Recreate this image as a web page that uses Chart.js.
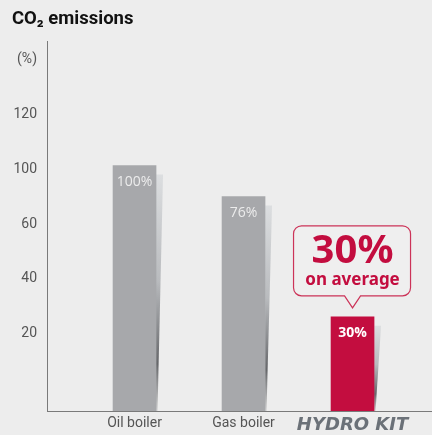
<!DOCTYPE html>
<html>
<head>
<meta charset="utf-8">
<script src="https://cdn.jsdelivr.net/npm/chart.js@4.4.1/dist/chart.umd.min.js"></script>
<style>
  html, body { margin: 0; padding: 0; background: #ededed; }
  #wrap { width: 432px; height: 435px; }
</style>
</head>
<body>
<div id="wrap"><canvas id="co2Chart"></canvas></div>
<script>
// Data
const categories = ['Oil boiler', 'Gas boiler', 'HYDRO KIT'];
const barHeights = [81.3, 70.0, 26.2];   // bar tops read against the axis grid
const barLabels = ['100%', '76%', '30%'];
const yTickValues = [20, 40, 60, 80, 100, 120];
const yTickLabels = ['20', '40', '60', '100', '120', '(%)'];
const calloutLines = ['30%', 'on average'];

const Y_MIN = -8.1;
const Y_MAX = 126.6;

const GREY = '#a7a8ab';
const RED = '#c30d3f';

// Shadows, value labels and the callout bubble
const barDecor = {
    id: 'barDecor',
    beforeDatasetsDraw(chart) {
        const c = chart.ctx;
        chart.getDatasetMeta(0).data.forEach(bar => {
            const right = bar.x + bar.width / 2;
            const top = bar.y + 9;
            const g = c.createLinearGradient(0, top, 0, bar.base);
            g.addColorStop(0, '#dcdee0');
            g.addColorStop(0.45, '#b9bbbe');
            g.addColorStop(0.8, '#66676a');
            g.addColorStop(1, '#d0d0d0');
            c.save();
            c.fillStyle = g;
            c.beginPath();
            c.moveTo(right, top);
            c.lineTo(right + 7, top);
            c.lineTo(right + 1.5, bar.base);
            c.lineTo(right, bar.base);
            c.closePath();
            c.fill();
            c.restore();
        });
    },
    afterDatasetsDraw(chart) {
        const c = chart.ctx;
        const bars = chart.getDatasetMeta(0).data;
        c.save();
        c.textAlign = 'center';
        c.textBaseline = 'alphabetic';
        bars.forEach((bar, i) => {
            const last = i === bars.length - 1;
            c.fillStyle = last ? '#ffffff' : '#ececec';
            c.font = (last ? 'bold ' : '') + '14px "Open Sans"';
            c.fillText(barLabels[i], bar.x, bar.y + 20);
        });

        // callout over the last bar
        const bar = bars[bars.length - 1];
        const cx = bar.x;
        const tipY = bar.y - 9;
        const bottom = bar.y - 21;
        const top = bar.y - 91;
        const left = cx - 59;
        const right = cx + 58;
        const r = 8;
        c.beginPath();
        c.moveTo(left + r, top);
        c.lineTo(right - r, top);
        c.arcTo(right, top, right, top + r, r);
        c.lineTo(right, bottom - r);
        c.arcTo(right, bottom, right - r, bottom, r);
        c.lineTo(cx + 8, bottom);
        c.lineTo(cx, tipY);
        c.lineTo(cx - 8, bottom);
        c.lineTo(left + r, bottom);
        c.arcTo(left, bottom, left, bottom - r, r);
        c.lineTo(left, top + r);
        c.arcTo(left, top, left + r, top, r);
        c.closePath();
        c.fillStyle = '#efefef';
        c.fill();
        c.strokeStyle = '#cc3358';
        c.lineWidth = 1.2;
        c.stroke();

        c.fillStyle = RED;
        c.font = 'bold 40px "Noto Sans"';
        c.fillText(calloutLines[0], cx, bar.y - 54);
        c.font = 'bold 17px "Noto Sans"';
        c.fillText(calloutLines[1], cx, bar.y - 32);
        c.restore();
    }
};

const ctx = document.getElementById('co2Chart').getContext('2d');

const co2Chart = new Chart(ctx, {
    type: 'bar',
    data: {
        datasets: [{
            data: categories.map((c, i) => ({ x: i + 1, y: barHeights[i] })),
            backgroundColor: [GREY, GREY, RED],
            borderWidth: 0,
            barThickness: 43,
            base: Y_MIN
        }]
    },
    options: {
        responsive: true,
        maintainAspectRatio: false,
        animation: false,
        layout: { padding: { left: 12, right: 0, top: 0, bottom: 0 } },
        plugins: {
            legend: { display: false },
            tooltip: { enabled: false },
            title: {
                display: true,
                text: 'CO₂ emissions',
                align: 'start',
                color: '#111111',
                font: { family: 'Roboto', size: 18.5, weight: 'bold' },
                padding: { top: 8, bottom: 11 }
            }
        },
        scales: {
            x: {
                type: 'linear',
                offset: false,
                min: 0.197,
                max: 3.729,
                grid: { display: false, drawTicks: false },
                border: { color: '#7a7a7a', width: 1 },
                afterBuildTicks: s => { s.ticks = categories.map((c, i) => ({ value: i + 1 })); },
                afterFit: s => { s.height = 24; },
                ticks: {
                    autoSkip: false,
                    maxRotation: 0,
                    padding: 4,
                    callback: (v, i) => categories[i],
                    color: c => c.index === 2 ? '#6b7178' : '#555555',
                    font: c => c.index === 2
                        ? { family: 'DejaVu Sans', size: 18, weight: 'bold', style: 'italic' }
                        : { family: 'Roboto', size: 14 }
                }
            },
            y: {
                min: Y_MIN,
                max: Y_MAX,
                grid: { display: false, drawTicks: false },
                border: { color: '#7a7a7a', width: 1 },
                afterBuildTicks: s => { s.ticks = yTickValues.map(v => ({ value: v })); },
                afterFit: s => { s.width = 35; },
                ticks: {
                    padding: 10,
                    callback: (v, i) => yTickLabels[i],
                    color: '#555555',
                    font: { family: 'Roboto', size: 14 }
                }
            }
        }
    },
    plugins: [barDecor]
});
</script>
</body>
</html>
